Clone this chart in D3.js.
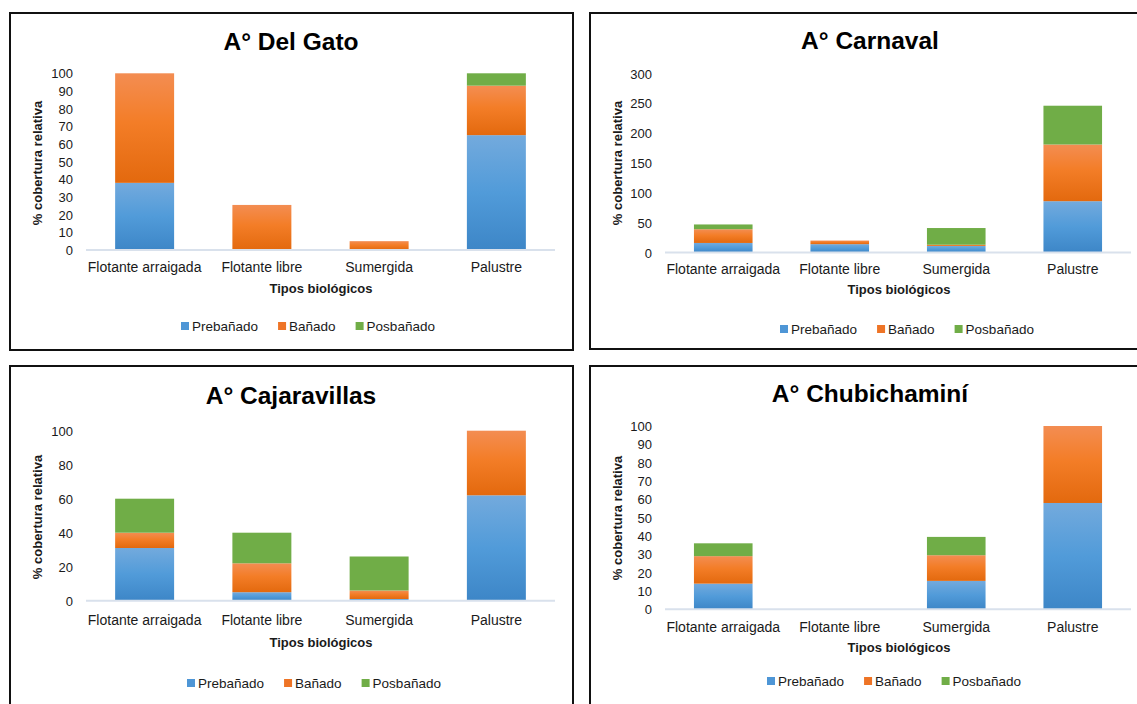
<!DOCTYPE html>
<html>
<head>
<meta charset="utf-8">
<script src="https://cdn.jsdelivr.net/npm/d3@7"></script>
<style>
  html, body { margin: 0; padding: 0; background: #fff; overflow: hidden; }
  svg { display: block; font-family: "Liberation Sans", Arial, sans-serif; }
</style>
</head>
<body>
<svg id="chart" width="1137" height="704"></svg>
<script>
// Biological types and flood phases
const categories = ["Flotante arraigada", "Flotante libre", "Sumergida", "Palustre"];
const seriesNames = ["Prebañado", "Bañado", "Posbañado"];

// Relative cover (%) per stream, one array per phase
const delGatoPre = [38, 0, 0, 65];
const delGatoBan = [62, 25.5, 5, 28];
const delGatoPos = [0, 0, 0, 7];

const carnavalPre = [16, 14, 11, 86];
const carnavalBan = [23, 6, 2, 95];
const carnavalPos = [8, 0, 28, 65];

const cajaravillasPre = [31, 5, 1, 62];
const cajaravillasBan = [9, 17, 5, 38];
const cajaravillasPos = [20, 18, 20, 0];

const chubichaminiPre = [14, 0, 15.5, 58];
const chubichaminiBan = [15, 0, 14, 42];
const chubichaminiPos = [7, 0, 10, 0];

// Axis tick labels per panel
const ticksDelGato = [0, 10, 20, 30, 40, 50, 60, 70, 80, 90, 100];
const ticksCarnaval = [0, 50, 100, 150, 200, 250, 300];
const ticksCajaravillas = [0, 20, 40, 60, 80, 100];
const ticksChubichamini = [0, 10, 20, 30, 40, 50, 60, 70, 80, 90, 100];

const titles = ["A° Del Gato", "A° Carnaval", "A° Cajaravillas", "A° Chubichaminí"];
const xTitle = "Tipos biológicos";
const yTitle = "% cobertura relativa";

// Panel layout (pixel geometry)
const panels = [
  { title: titles[0], pre: delGatoPre, ban: delGatoBan, pos: delGatoPos, ticks: ticksDelGato, yMax: 100,
    box: [10, 13, 573, 350], titleX: 291, x0: 86, x1: 555, yBase: 250, yTop: 73.3, tickRight: 73,
    titleY: 41, catY: 267, xtX: 321, xtY: 288, ytX: 37, ytY: 163, legX: 181, legY: 326 },
  { title: titles[1], pre: carnavalPre, ban: carnavalBan, pos: carnavalPos, ticks: ticksCarnaval, yMax: 300,
    box: [590, 13, 1150, 349], titleX: 870, x0: 665, x1: 1131, yBase: 252.5, yTop: 73.5, tickRight: 652,
    titleY: 40, catY: 269, xtX: 899, xtY: 289, ytX: 617, ytY: 163, legX: 780, legY: 329 },
  { title: titles[2], pre: cajaravillasPre, ban: cajaravillasBan, pos: cajaravillasPos, ticks: ticksCajaravillas, yMax: 100,
    box: [10, 366, 573, 720], titleX: 291, x0: 86, x1: 555, yBase: 600.7, yTop: 430.7, tickRight: 73,
    titleY: 395, catY: 620, xtX: 321, xtY: 642, ytX: 37, ytY: 517, legX: 187, legY: 683 },
  { title: titles[3], pre: chubichaminiPre, ban: chubichaminiBan, pos: chubichaminiPos, ticks: ticksChubichamini, yMax: 100,
    box: [590, 366, 1150, 720], titleX: 870, x0: 665, x1: 1131, yBase: 609.3, yTop: 426, tickRight: 652,
    titleY: 393, catY: 627, xtX: 899, xtY: 647, ytX: 617, ytY: 518, legX: 767, legY: 681 }
];

const svg = d3.select("#chart");
const defs = svg.append("defs");

function gradient(id, stops) {
  const g = defs.append("linearGradient").attr("id", id)
    .attr("x1", 0).attr("y1", 0).attr("x2", 0).attr("y2", 1);
  stops.forEach(([o, c]) => g.append("stop").attr("offset", o).attr("stop-color", c));
}
gradient("gBlue", [[0, "#73aadd"], [0.5, "#519bd9"], [1, "#3d86c7"]]);
gradient("gOrange", [[0, "#f38d52"], [0.45, "#f37d27"], [1, "#e3690e"]]);

const fills = ["url(#gBlue)", "url(#gOrange)", "#70ad47"];
const legendFills = ["#4e96d6", "#ee7426", "#70ad47"];
const textColor = "#1a1a1a";

panels.forEach(p => {
  const g = svg.append("g");
  const [bx0, by0, bx1, by1] = p.box;

  // Chart frame
  g.append("rect")
    .attr("x", bx0).attr("y", by0)
    .attr("width", bx1 - bx0).attr("height", by1 - by0)
    .attr("fill", "#fff").attr("stroke", "#111").attr("stroke-width", 2);

  const x = d3.scaleBand().domain(categories).range([p.x0, p.x1])
    .paddingInner(0.497).paddingOuter(0.2485);
  const y = d3.scaleLinear().domain([0, p.yMax]).range([p.yBase, p.yTop]);

  const rows = categories.map((c, i) => ({
    cat: c, "Prebañado": p.pre[i], "Bañado": p.ban[i], "Posbañado": p.pos[i]
  }));
  const stacked = d3.stack().keys(seriesNames)(rows);

  stacked.forEach((layer, si) => {
    g.append("g").selectAll("rect")
      .data(layer.filter(d => d[1] - d[0] > 0))
      .join("rect")
      .attr("x", d => x(d.data.cat))
      .attr("width", x.bandwidth())
      .attr("y", d => y(d[1]))
      .attr("height", d => y(d[0]) - y(d[1]))
      .attr("fill", fills[si]);
  });

  // Baseline
  g.append("line")
    .attr("x1", p.x0).attr("x2", p.x1)
    .attr("y1", y(0)).attr("y2", y(0))
    .attr("stroke", "#d9e1ec").attr("stroke-width", 2);

  // Y axis
  const yAxis = d3.axisLeft(y).tickValues(p.ticks).tickSize(0).tickPadding(0);
  const ya = g.append("g").attr("transform", `translate(${p.tickRight},0)`).call(yAxis);
  ya.select(".domain").remove();
  ya.selectAll("text").attr("font-size", 13).attr("fill", textColor)
    .attr("font-family", "Liberation Sans, Arial, sans-serif").attr("dy", "0.35em");

  // X axis
  const xAxis = d3.axisBottom(x).tickSize(0).tickPadding(0);
  const xa = g.append("g").attr("transform", `translate(0,${p.catY})`).call(xAxis);
  xa.select(".domain").remove();
  xa.selectAll("text").attr("font-size", 14).attr("fill", textColor)
    .attr("font-family", "Liberation Sans, Arial, sans-serif").attr("dy", "0.35em");

  // Titles
  g.append("text").attr("x", p.titleX).attr("y", p.titleY).attr("dy", "0.35em")
    .attr("text-anchor", "middle").attr("font-size", 24.5).attr("font-weight", "bold")
    .attr("fill", "#000").text(p.title);

  g.append("text").attr("x", p.xtX).attr("y", p.xtY).attr("dy", "0.35em")
    .attr("text-anchor", "middle").attr("font-size", 13).attr("font-weight", "bold")
    .attr("fill", textColor).text(xTitle);

  g.append("text").attr("transform", `translate(${p.ytX},${p.ytY}) rotate(-90)`)
    .attr("dy", "0.35em").attr("text-anchor", "middle")
    .attr("font-size", 13).attr("font-weight", "bold")
    .attr("fill", textColor).text(yTitle);

  // Legend
  let lx = p.legX;
  seriesNames.forEach((name, i) => {
    g.append("rect").attr("x", lx).attr("y", p.legY - 4).attr("width", 8).attr("height", 8)
      .attr("fill", legendFills[i]);
    const t = g.append("text").attr("x", lx + 11).attr("y", p.legY).attr("dy", "0.35em")
      .attr("font-size", 13.5).attr("fill", textColor).text(name);
    lx += 11 + t.node().getComputedTextLength() + 20;
  });
});
</script>
</body>
</html>
